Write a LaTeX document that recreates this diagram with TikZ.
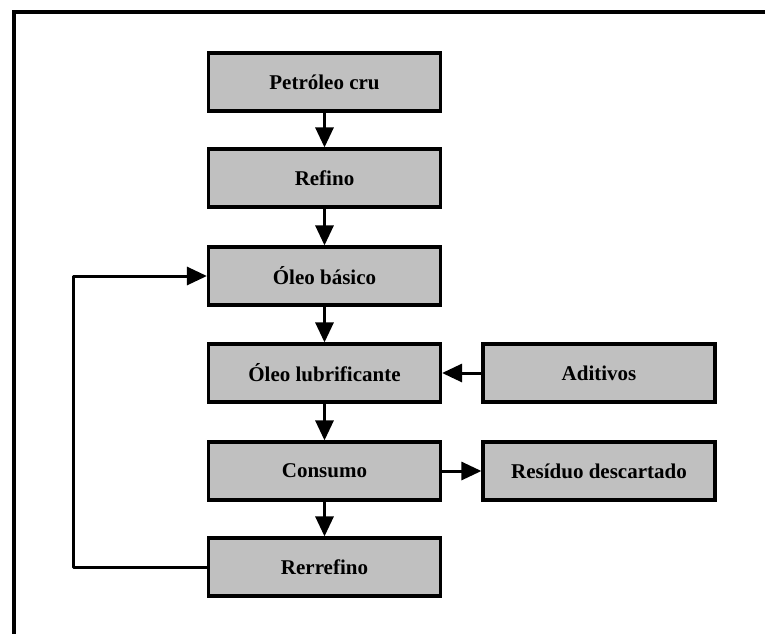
\documentclass[tikz,border=0pt]{standalone}
\usepackage{fontspec}
\setmainfont{Liberation Serif}
\usepackage{xcolor}
\usetikzlibrary{arrows.meta,positioning}
\definecolor{boxgray}{HTML}{C0C0C0}

\begin{document}
\begin{tikzpicture}[
  x=1pt,
  y=-1pt,
  stage/.style={draw=black, fill=boxgray, line width=3.2pt, minimum width=232pt, minimum height=58pt, inner sep=0pt, font=\fontsize{21}{25}\selectfont\bfseries},
  flow/.style={-{Triangle[length=20pt,width=18pt]}, line width=3pt}
]
\useasboundingbox (0,0) rectangle (765,633);
\begin{scope}
\clip (0,0) rectangle (765,633);
\draw[line width=4pt] (14,12) rectangle (790,660);
\end{scope}

\node[stage] (crude) at (324.5,82) {Petróleo cru};
\node[stage] (refino) at (324.5,178) {Refino};
\node[stage] (basico) at (324.5,276) {Óleo básico};
\node[stage] (lubri) at (324.5,373) {Óleo lubrificante};
\node[stage] (consumo) at (324.5,471) {Consumo};
\node[stage] (rerref) at (324.5,567) {Rerrefino};
\node[stage] (aditivos) at (599,373) {Aditivos};
\node[stage] (residuo) at (599,471) {Resíduo descartado};

\draw[flow] (crude) -- (refino);
\draw[flow] (refino) -- (basico);
\draw[flow] (basico) -- (lubri);
\draw[flow] (lubri) -- (consumo);
\draw[flow] (consumo) -- (rerref);
\draw[flow] (aditivos) -- (lubri);
\draw[flow] (consumo) -- (residuo);
\coordinate (loopb) at (73,567);
\draw[flow, line join=round] (rerref.west) -- (loopb) |- (basico.west);
\end{tikzpicture}
\end{document}
